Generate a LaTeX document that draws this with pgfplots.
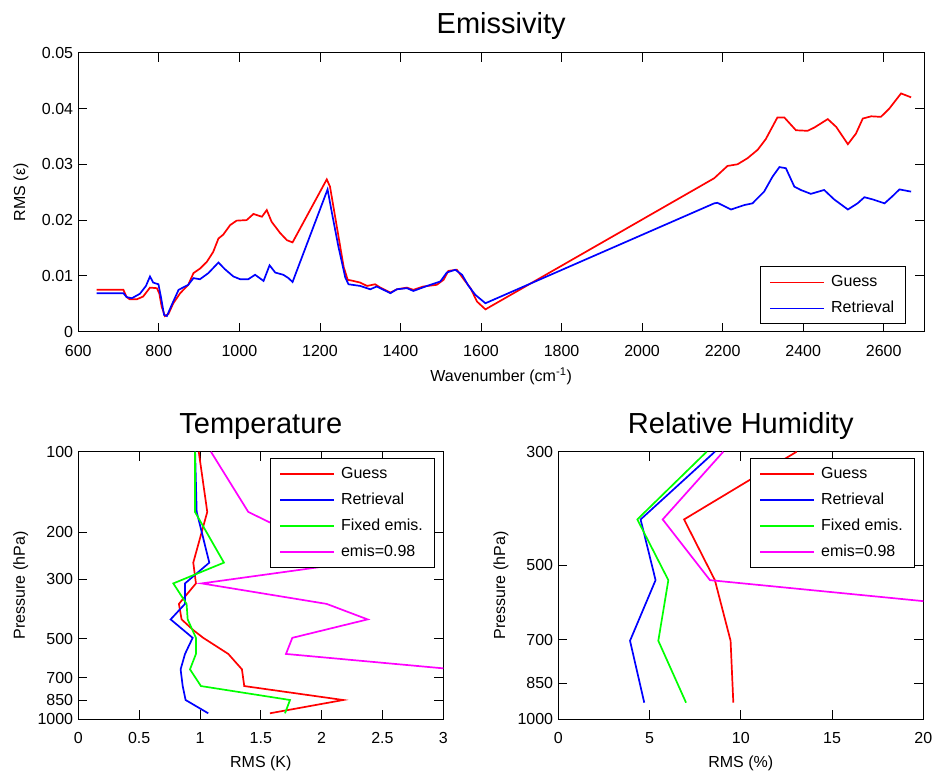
\documentclass[border=0pt]{standalone}
\usepackage{fontspec}
\setmainfont{Liberation Sans}
\usepackage{pgfplots}
\pgfplotsset{compat=1.18}
\definecolor{mred}{rgb}{1,0,0}
\definecolor{mblue}{rgb}{0,0,1}
\definecolor{mgreen}{rgb}{0,1,0}
\definecolor{mmag}{rgb}{1,0,1}

\pgfplotsset{
  matlab/.style={
    scale only axis, anchor=south west, tick align=inside,
    major tick length=9pt, minor tick num=0, scaled ticks=false,
    axis line style={black, line width=0.8pt},
    tick style={black, line width=0.8pt},
    /pgf/number format/assume math mode=true,
    tick label style={font=\fontsize{16}{19}\selectfont},
    xticklabel style={anchor=north, inner sep=0pt, yshift=-13.5pt},
    yticklabel style={anchor=east, inner sep=0pt, xshift=-5pt},
    every axis title/.style={at={(axis description cs:0.5,1)}, anchor=base, font=\fontsize{29}{34}\selectfont},
    every axis x label/.style={at={(axis description cs:0.5,0)}, anchor=base, font=\fontsize{16}{19}\selectfont},
    every axis y label/.style={at={(axis description cs:0,0.5)}, xshift=-53.3pt, rotate=90, anchor=base, font=\fontsize{16}{19}\selectfont},
    legend cell align=left,
    legend image code/.code={\draw[##1] (0pt,0pt) -- (54pt,0pt);},
    legend style={draw=black, line width=0.8pt, fill=white, inner xsep=9pt, inner ysep=6pt,
      font=\fontsize{16}{19}\selectfont, row sep=7pt,
      nodes={inner sep=2pt, text height=11.5pt, text depth=3.5pt},
      /tikz/every odd column/.append style={column sep=4pt}},
  },
  guess/.style={mred, line width=1.7pt},
  retr/.style={mblue, line width=1.7pt},
  fixd/.style={mgreen, line width=1.7pt},
  emis/.style={mmag, line width=1.7pt},
}

\begin{document}
\begin{tikzpicture}
\useasboundingbox (0,0) rectangle (935pt,774pt);

% ---- top: emissivity
\begin{axis}[matlab, at={(78.3pt,442.3pt)}, width=845.7pt, height=279pt,
  xmin=600, xmax=2700, ymin=0, ymax=0.05,
  xtick={600,800,1000,1200,1400,1600,1800,2000,2200,2400,2600},
  xticklabels={600,800,1000,1200,1400,1600,1800,2000,2200,2400,2600},
  ytick={0,0.01,0.02,0.03,0.04,0.05},
  yticklabels={0,0.01,0.02,0.03,0.04,0.05},
  title={Emissivity}, title style={yshift=19.4pt},
  xlabel={Wavenumber (cm\textsuperscript{-1})}, xlabel style={yshift=-50.3pt},
  ylabel={RMS (ε)},
  legend style={at={(1,0)}, anchor=south east, xshift=-18.3pt, yshift=7.4pt}]
\addplot[guess] coordinates {
(645.6,0.0075)(712,0.0075)(720,0.0062)(728,0.0058)(745,0.0058)(761,0.0063)(778,0.0079)
(795,0.0078)(801,0.0069)(807,0.0045)(815,0.0028)(824,0.0032)(836,0.0051)(853,0.0069)
(873,0.0084)(886,0.0105)(902,0.0113)(919,0.0125)(935,0.0143)(948,0.0167)(960,0.0174)
(977,0.0191)(993,0.0199)(1018,0.0200)(1035,0.0211)(1056,0.0206)(1068,0.0218)(1080,0.0197)
(1101,0.0177)(1118,0.0164)(1132,0.0160)(1217,0.0273)(1225,0.0260)(1242,0.0188)(1259,0.0116)
(1269,0.0093)(1283,0.0091)(1300,0.0088)(1317,0.0082)(1337,0.0085)(1350,0.0079)(1375,0.0070)
(1391,0.0076)(1416,0.0079)(1432,0.0075)(1457,0.0081)(1490,0.0084)(1507,0.0093)(1519,0.0109)
(1540,0.0111)(1557,0.0094)(1574,0.0078)(1590,0.0054)(1611,0.0040)(2179,0.0275)(2212,0.0297)
(2237,0.0300)(2262,0.0311)(2287,0.0326)(2307,0.0345)(2336,0.0384)(2353,0.0384)(2382,0.0361)
(2411,0.0360)(2428,0.0366)(2461,0.0381)(2482,0.0367)(2511,0.0336)(2531,0.0355)(2548,0.0382)
(2569,0.0386)(2593,0.0385)(2614,0.0400)(2643,0.0427)(2668,0.0420)};
\addlegendentry{Guess}
\addplot[retr] coordinates {
(645.6,0.0069)(712,0.0069)(720,0.0062)(733,0.0060)(753,0.0068)(768,0.0082)(778,0.0099)
(786,0.0088)(799,0.0085)(805,0.0063)(813,0.0030)(820,0.0028)(832,0.0048)(849,0.0075)
(873,0.0084)(886,0.0096)(902,0.0094)(923,0.0105)(948,0.0124)(964,0.0112)(985,0.0099)
(1002,0.0094)(1022,0.0094)(1039,0.0102)(1060,0.0091)(1075,0.0119)(1089,0.0106)(1109,0.0102)
(1122,0.0096)(1132,0.0089)(1219,0.0255)(1230,0.0212)(1246,0.0152)(1263,0.0097)(1271,0.0085)
(1300,0.0082)(1325,0.0076)(1341,0.0081)(1375,0.0069)(1391,0.0076)(1416,0.0078)(1432,0.0073)
(1466,0.0082)(1499,0.0090)(1515,0.0106)(1536,0.0111)(1553,0.0102)(1569,0.0082)(1586,0.0066)
(1611,0.0051)(2179,0.0230)(2187,0.0231)(2221,0.0219)(2254,0.0227)(2274,0.0230)(2303,0.0251)
(2324,0.0278)(2341,0.0295)(2357,0.0293)(2378,0.0260)(2394,0.0254)(2419,0.0247)(2452,0.0254)
(2477,0.0237)(2511,0.0219)(2535,0.0230)(2552,0.0241)(2573,0.0237)(2602,0.0230)(2622,0.0243)
(2639,0.0255)(2668,0.0251)};
\addlegendentry{Retrieval}
\end{axis}

% ---- bottom left: temperature
\begin{axis}[matlab, at={(78.3pt,55pt)}, width=365pt, height=267.3pt,
  xmin=0, xmax=3, ymin=100, ymax=1000, ymode=log, y dir=reverse,
  xtick={0,0.5,1,1.5,2,2.5,3}, xticklabels={0,0.5,1,1.5,2,2.5,3},
  ytick={100,200,300,500,700,850,1000}, yticklabels={100,200,300,500,700,850,1000},
  title={Temperature}, title style={yshift=18.4pt},
  xlabel={RMS (K)}, xlabel style={yshift=-48pt},
  ylabel={Pressure (hPa)},
  legend style={at={(1,1)}, anchor=north east, xshift=-9pt, yshift=-6.6pt}]
\addplot[guess] coordinates {(0.99,100)(1.06,168)(0.945,260)(0.967,311)(0.827,371)(0.849,424)
  (0.945,465)(1.027,497)(1.233,571)(1.345,652)(1.364,753)(2.178,849)(1.575,952)};
\addlegendentry{Guess}
\addplot[retr] coordinates {(0.96,100)(0.973,168)(1.077,260)(0.877,311)(0.877,371)(0.759,424)
  (0.94,497)(0.877,571)(0.841,652)(0.858,753)(0.882,849)(1.068,952)};
\addlegendentry{Retrieval}
\addplot[fixd] coordinates {(0.96,100)(0.959,168)(1.197,260)(0.781,311)(0.890,371)(0.899,424)
  (0.967,497)(0.967,571)(0.918,652)(1.008,753)(1.740,849)(1.699,952)};
\addlegendentry{Fixed emis.}
\addplot[emis] coordinates {(1.090,100)(1.397,168)(2.25,260)(1.014,311)(2.041,371)(2.378,424)
  (1.759,497)(1.707,571)(3.09,652)(3.6,753)(3.9,849)(3.7,952)};
\addlegendentry{emis=0.98}
\end{axis}

% ---- bottom right: relative humidity
\begin{axis}[matlab, at={(558.3pt,55pt)}, width=365pt, height=267.3pt,
  xmin=0, xmax=20, ymin=300, ymax=1000, ymode=log, y dir=reverse,
  xtick={0,5,10,15,20}, xticklabels={0,5,10,15,20},
  ytick={300,500,700,850,1000}, yticklabels={300,500,700,850,1000},
  title={Relative Humidity}, title style={yshift=18.4pt},
  xlabel={RMS (\%)}, xlabel style={yshift=-48pt},
  ylabel={Pressure (hPa)},
  legend style={at={(1,1)}, anchor=north east, xshift=-9pt, yshift=-6.6pt}]
\addplot[guess] coordinates {(13.06,300)(6.89,407)(8.58,535)(9.44,703)(9.59,929)};
\addlegendentry{Guess}
\addplot[retr] coordinates {(8.58,300)(4.51,407)(5.33,535)(3.93,703)(4.71,929)};
\addlegendentry{Retrieval}
\addplot[fixd] coordinates {(8.13,300)(4.33,407)(6.03,535)(5.48,703)(7.0,929)};
\addlegendentry{Fixed emis.}
\addplot[emis] coordinates {(9.04,300)(5.72,407)(8.31,535)(42.1,703)(45,929)};
\addlegendentry{emis=0.98}
\end{axis}
\end{tikzpicture}
\end{document}
